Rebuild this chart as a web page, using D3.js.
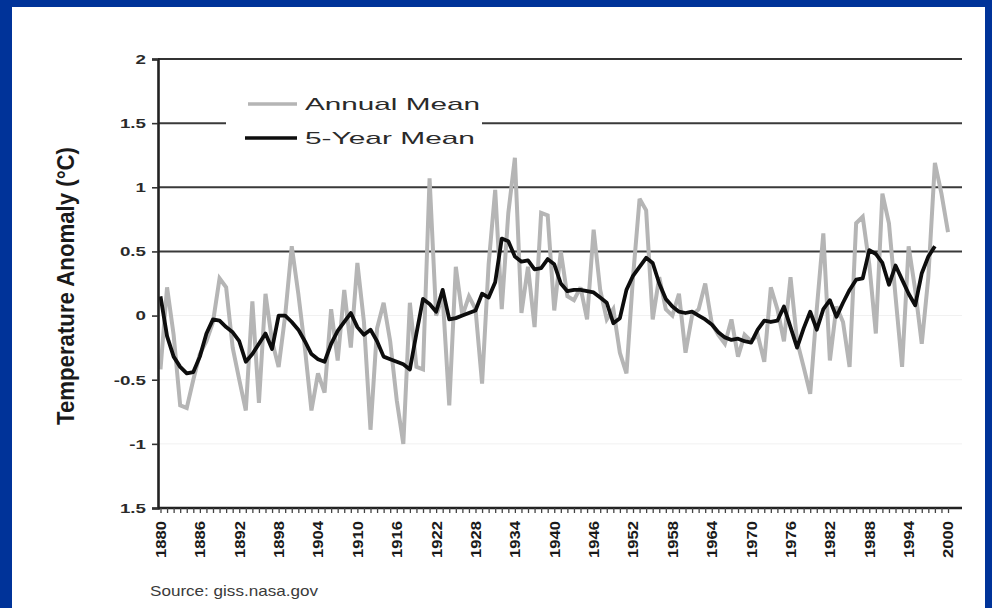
<!DOCTYPE html>
<html>
<head>
<meta charset="utf-8">
<script src="https://cdn.jsdelivr.net/npm/d3@7"></script>
<style>
  html, body { margin: 0; padding: 0; background: #003399; }
  svg { display: block; }
</style>
</head>
<body>
<svg id="chart" width="992" height="608"></svg>
<script>
// US temperature anomaly, annual mean and 5-year running mean (°C)
const startYear = 1880;
const annualMean = [
  -0.42, 0.22, -0.15, -0.70, -0.72, -0.50, -0.30, -0.20, -0.05, 0.29,
   0.22, -0.25, -0.50, -0.74, 0.11, -0.68, 0.17, -0.20, -0.40, 0.00,
   0.54, 0.17, -0.25, -0.74, -0.45, -0.60, 0.05, -0.35, 0.20, -0.25,
   0.41, -0.05, -0.89, -0.10, 0.10, -0.20, -0.66, -1.00, 0.10, -0.40,
  -0.42, 1.07, 0.00, 0.15, -0.70, 0.38, 0.00, 0.15, 0.05, -0.53,
   0.40, 0.98, 0.05, 0.80, 1.23, 0.02, 0.38, -0.09, 0.80, 0.78,
   0.04, 0.50, 0.15, 0.12, 0.22, -0.03, 0.67, 0.20, -0.03, 0.05,
  -0.29, -0.45, 0.30, 0.91, 0.82, -0.03, 0.30, 0.05, 0.00, 0.17,
  -0.29, 0.00, 0.05, 0.25, -0.06, -0.15, -0.22, -0.03, -0.32, -0.15,
  -0.20, -0.15, -0.36, 0.22, 0.05, -0.20, 0.30, -0.20, -0.40, -0.61,
   0.05, 0.64, -0.35, 0.07, -0.05, -0.40, 0.72, 0.77, 0.40, -0.14,
   0.95, 0.72, 0.15, -0.40, 0.54, 0.20, -0.22, 0.30, 1.19, 0.95,
   0.65
];
const fiveYearMean = [
   0.15, -0.16, -0.32, -0.40, -0.45, -0.44, -0.32, -0.14, -0.03, -0.04,
  -0.09, -0.13, -0.20, -0.36, -0.30, -0.22, -0.14, -0.26, 0.00, 0.00,
  -0.05, -0.11, -0.20, -0.30, -0.34, -0.36, -0.22, -0.12, -0.05, 0.02,
  -0.09, -0.15, -0.11, -0.20, -0.32, -0.34, -0.36, -0.38, -0.42, -0.14,
   0.13, 0.09, 0.03, 0.20, -0.03, -0.02, 0.00, 0.02, 0.04, 0.17,
   0.14, 0.26, 0.60, 0.58, 0.46, 0.42, 0.43, 0.36, 0.37, 0.44,
   0.40, 0.25, 0.19, 0.20, 0.20, 0.19, 0.18, 0.14, 0.10, -0.06,
  -0.02, 0.20, 0.31, 0.38, 0.45, 0.41, 0.25, 0.13, 0.07, 0.03,
   0.02, 0.03, 0.00, -0.03, -0.07, -0.13, -0.17, -0.19, -0.18, -0.20,
  -0.21, -0.11, -0.04, -0.05, -0.04, 0.07, -0.09, -0.25, -0.10, 0.03,
  -0.11, 0.05, 0.12, -0.01, 0.10, 0.20, 0.28, 0.29, 0.51, 0.48,
   0.41, 0.24, 0.39, 0.28, 0.17, 0.08, 0.33, 0.46, 0.54
];
const yearTicks = [1880, 1886, 1892, 1898, 1904, 1910, 1916, 1922, 1928, 1934,
  1940, 1946, 1952, 1958, 1964, 1970, 1976, 1982, 1988, 1994, 2000];
const valueTicks = [-1.5, -1, -0.5, 0, 0.5, 1, 1.5, 2];
const valueTickLabels = ["1.5", "-1", "-0.5", "0", "0.5", "1", "1.5", "2"];
const gridValues = [0.5, 1, 1.5];
const faintGridValues = [-1, -0.5, 0];
const legendLabels = ["Annual Mean", "5-Year Mean"];
const yTitle = "Temperature Anomaly (°C)";
const sourceText = "Source: giss.nasa.gov";

const annual = annualMean.map((v, i) => ({ year: startYear + i, value: v }));
const fiveYear = fiveYearMean.map((v, i) => ({ year: startYear + i, value: v }));

const svg = d3.select("#chart");

// white slide panel inside the blue frame
svg.append("rect").attr("x", 12).attr("y", 7).attr("width", 973).attr("height", 601)
  .attr("fill", "#ffffff");

const plot = { left: 158, right: 962, top: 59, bottom: 508 };
const x = d3.scaleLinear().domain([1879.62, 2002.13]).range([plot.left, plot.right]);
const y = d3.scaleLinear().domain([-1.5, 2]).range([plot.bottom, plot.top]);

const font = "'Liberation Sans', Arial, sans-serif";

// faint lower gridlines
svg.append("g").selectAll("line").data(faintGridValues).join("line")
  .attr("x1", plot.left).attr("x2", plot.right)
  .attr("y1", d => y(d)).attr("y2", d => y(d))
  .attr("stroke", "#f1f1f1").attr("stroke-width", 1);

// gridlines
svg.append("g").selectAll("line").data(gridValues).join("line")
  .attr("x1", plot.left).attr("x2", plot.right)
  .attr("y1", d => y(d)).attr("y2", d => y(d))
  .attr("stroke", "#3a3a3a").attr("stroke-width", 2);

// top frame line
svg.append("line").attr("x1", plot.left).attr("x2", plot.right)
  .attr("y1", y(2)).attr("y2", y(2))
  .attr("stroke", "#333").attr("stroke-width", 2);

// series
const line = d3.line().x(d => x(d.year)).y(d => y(d.value)).curve(d3.curveLinear);

svg.append("path").datum(annual)
  .attr("d", line).attr("fill", "none")
  .attr("stroke", "#b5b5b5").attr("stroke-width", 4)
  .attr("stroke-linejoin", "miter").attr("stroke-miterlimit", 3);

svg.append("path").datum(fiveYear)
  .attr("d", line).attr("fill", "none")
  .attr("stroke", "#0d0d0d").attr("stroke-width", 3.8)
  .attr("stroke-linejoin", "round");

// y axis
const yAxis = d3.axisLeft(y).tickValues(valueTicks).tickSize(6)
  .tickFormat((d, i) => valueTickLabels[i]);
const gy = svg.append("g").attr("transform", `translate(${plot.left},0)`).call(yAxis);
gy.select(".domain").attr("stroke", "#222").attr("stroke-width", 2.6);
gy.selectAll(".tick line").attr("stroke", "#333").attr("stroke-width", 1.6);
gy.selectAll(".tick text")
  .attr("x", 0).attr("dy", "0.35em")
  .attr("transform", "translate(-12,0) scale(1.5,1)")
  .attr("fill", "#2a2a2a")
  .style("font-family", font).style("font-size", "12.5px").style("font-weight", "bold");

// x axis: a tick for every year, labels every six years
const xAxis = d3.axisBottom(x).tickValues(annual.map(d => d.year)).tickSize(5).tickFormat("");
const gx = svg.append("g").attr("transform", `translate(0,${plot.bottom})`).call(xAxis);
gx.select(".domain").attr("stroke", "#222").attr("stroke-width", 2.6)
  .attr("d", `M${plot.left},0H${plot.right}`);
gx.selectAll(".tick line").attr("stroke", "#444").attr("stroke-width", 1.3);

svg.append("g").selectAll("text").data(yearTicks).join("text")
  .attr("transform", d => `translate(${x(d)},521) rotate(-90)`)
  .attr("text-anchor", "end").attr("dy", "0.36em")
  .attr("textLength", 37).attr("lengthAdjust", "spacingAndGlyphs")
  .attr("fill", "#1a1a1a")
  .style("font-family", font).style("font-size", "15px").style("font-weight", "bold")
  .text(d => d);

// y axis title
svg.append("text")
  .attr("transform", "translate(74,286) rotate(-90)")
  .attr("text-anchor", "middle")
  .attr("textLength", 278).attr("lengthAdjust", "spacingAndGlyphs")
  .attr("fill", "#1a1a1a")
  .style("font-family", font).style("font-size", "23px").style("font-weight", "bold")
  .text(yTitle);

// legend
const legend = svg.append("g");
legend.append("rect").attr("x", 226).attr("y", 82).attr("width", 256).attr("height", 74)
  .attr("fill", "#ffffff");
const legendItems = [
  { label: legendLabels[0], color: "#b5b5b5", x1: 248, y: 104, width: 175 },
  { label: legendLabels[1], color: "#0d0d0d", x1: 245, y: 138, width: 170 }
];
legendItems.forEach(it => {
  legend.append("line").attr("x1", it.x1).attr("x2", 297)
    .attr("y1", it.y).attr("y2", it.y)
    .attr("stroke", it.color).attr("stroke-width", 3.6);
  legend.append("text").attr("x", 305).attr("y", it.y).attr("dy", "0.36em")
    .attr("textLength", it.width).attr("lengthAdjust", "spacingAndGlyphs")
    .attr("fill", "#2a2a2a")
    .style("font-family", font).style("font-size", "17px")
    .text(it.label);
});

// source note
svg.append("text").attr("x", 150).attr("y", 596)
  .attr("textLength", 168).attr("lengthAdjust", "spacingAndGlyphs")
  .attr("fill", "#3a3a3a")
  .style("font-family", font).style("font-size", "15px")
  .text(sourceText);
</script>
</body>
</html>
